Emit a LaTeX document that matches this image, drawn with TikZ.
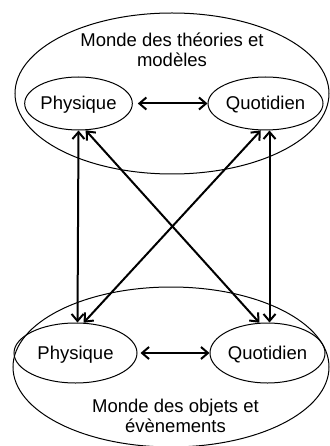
\documentclass[tikz,border=0pt]{standalone}
\usepackage{fontspec}
\setmainfont{Liberation Sans}
\usetikzlibrary{shapes.geometric,arrows.meta}
\begin{document}
\begin{tikzpicture}[x=1pt,y=-1pt,
  big/.style={ellipse,draw,line width=1pt,inner sep=0pt},
  small/.style={ellipse,draw,line width=1pt,inner sep=0pt,
    font=\fontsize{18.5}{20.5}\selectfont,text height=13pt,text depth=0pt},
  lbl/.style={align=center,font=\fontsize{18.5}{20.5}\selectfont,inner sep=0pt},
  link/.style={line width=2pt,
    {Straight Barb[length=7pt,width=12pt]}-{Straight Barb[length=7pt,width=12pt]}}]
\useasboundingbox (0,0) rectangle (329,446);
\node[big,minimum width=314pt,minimum height=161pt] (W1) at (172,93.5) {};
\node[big,minimum width=316pt,minimum height=160pt] (W2) at (171,367) {};
\node[lbl] (T1) at (172,50) {Monde des théories et\\modèles};
\node[lbl] (T2) at (175.5,416) {Monde des objets et\\évènements};
\node[small,minimum width=107pt,minimum height=53pt] (P1) at (78.5,103.5) {Physique};
\node[small,minimum width=115pt,minimum height=53pt] (Q1) at (265.5,103.5) {Quotidien};
\node[small,minimum width=123pt,minimum height=60pt] (P2) at (75.5,353) {Physique};
\node[small,minimum width=115pt,minimum height=60pt] (Q2) at (267.5,353) {Quotidien};
\draw[link,shorten <=5pt] (P1.east) -- (Q1.west);
\draw[link,shorten <=3pt] (P2.east) -- (Q2.west);
\draw[link] (P1.south) -- ([xshift=2pt]P2.north);
\draw[link] ([xshift=4pt]Q1.south) -- ([xshift=2pt]Q2.north);
\draw[link] (P1.-75) -- (Q2.105);
\draw[link] (Q1.-100) -- (P2.75);
\end{tikzpicture}
\end{document}
